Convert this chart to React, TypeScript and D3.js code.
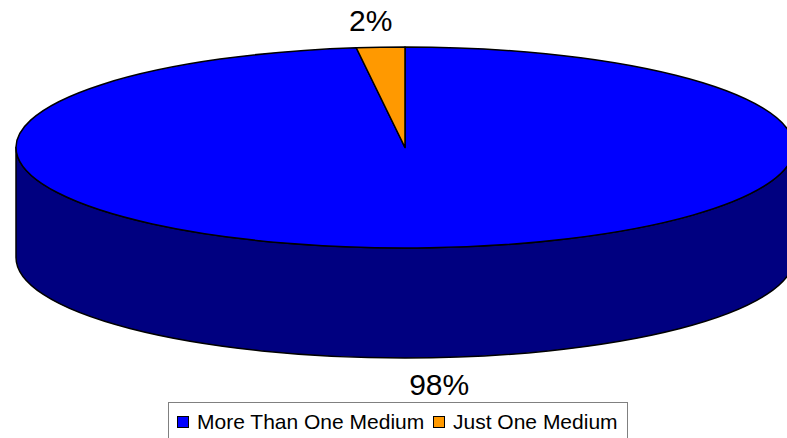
import React from 'react';
import * as d3 from 'd3';

const categories = ['More Than One Medium', 'Just One Medium'];
const values = [98, 2];
const topColors = ['#0000FF', '#FF9900'];
const sideColors = ['#000080', '#804C00'];

const W = 787;
const H = 438;
const cx = 405;
const cy = 147.5;
const rx = 389;
const ry = 100.5;
const depth = 110;
const font = 'Liberation Sans, Arial, sans-serif';

// point on the top ellipse for a pie angle (0 = 12 o'clock, clockwise)
const pt = (a: number, dy = 0): [number, number] => [cx + rx * Math.sin(a), cy - ry * Math.cos(a) + dy];

const arcTo = (a0: number, a1: number, dy = 0) => {
  const [x, y] = pt(a1, dy);
  const large = Math.abs(a1 - a0) > Math.PI ? 1 : 0;
  const sweep = a1 > a0 ? 1 : 0;
  return `A${rx},${ry} 0 ${large} ${sweep} ${x},${y}`;
};

export default function App() {
  const pie = d3.pie<number>().sort(null).value((d) => d);
  const arcs = pie(values);
  const total = d3.sum(values);

  // front side walls, visible between 90deg and 270deg
  const sides: { d: string; i: number }[] = [];
  arcs.forEach((a, i) => {
    const s = Math.max(a.startAngle, Math.PI / 2);
    const e = Math.min(a.endAngle, (3 * Math.PI) / 2);
    if (e <= s) return;
    const m = (s + e) / 2;
    const [x0, y0] = pt(s);
    const [x1, y1] = pt(e, depth);
    const d =
      `M${x0},${y0}` + arcTo(s, m) + arcTo(m, e) +
      `L${x1},${y1}` + arcTo(e, m, depth) + arcTo(m, s, depth) + 'Z';
    sides.push({ d, i });
  });

  const tops = arcs.map((a, i) => {
    const [x0, y0] = pt(a.startAngle);
    const m = (a.startAngle + a.endAngle) / 2;
    return {
      d: `M${cx},${cy}L${x0},${y0}` + arcTo(a.startAngle, m) + arcTo(m, a.endAngle) + 'Z',
      i,
    };
  });

  const labels = arcs.map((a, i) => {
    const m = (a.startAngle + a.endAngle) / 2;
    const front = Math.cos(m) < 0;
    const x = cx + rx * Math.sin(m) * 1.4;
    const y = cy - ry * Math.cos(m) + (front ? depth + 27 : -27);
    return { x, y, text: `${Math.round((values[i] / total) * 100)}%` };
  });

  // legend
  const lx = 168;
  const ly = 402;
  const lw = 459;
  const itemX = [177, 433];

  return (
    <svg width={W} height={H} style={{ position: 'absolute', left: 0, top: 0 }}>
      <rect width={W} height={H} fill="#ffffff" />
      {sides.map((s) => (
        <path key={'s' + s.i} d={s.d} fill={sideColors[s.i]} stroke="#000" strokeWidth={1.5} strokeLinejoin="round" />
      ))}
      {tops.map((t) => (
        <path key={'t' + t.i} d={t.d} fill={topColors[t.i]} stroke="#000" strokeWidth={1.5} strokeLinejoin="round" />
      ))}
      {labels.map((l, i) => (
        <text key={'l' + i} x={l.x} y={l.y} textAnchor="middle" dominantBaseline="central" fontFamily={font} fontSize={30} fill="#000">
          {l.text}
        </text>
      ))}
      <rect x={lx + 0.5} y={ly + 0.5} width={lw} height={44} fill="#fff" stroke="#808080" strokeWidth={1} />
      {categories.map((c, i) => (
        <g key={c} transform={`translate(${itemX[i]},${ly + 14})`}>
          <rect x={0.5} y={0.5} width={11} height={11} fill={topColors[i]} stroke="#000" strokeWidth={1} />
          <text x={20} y={12.5} fontFamily={font} fontSize={21} fill="#000">
            {c}
          </text>
        </g>
      ))}
    </svg>
  );
}
